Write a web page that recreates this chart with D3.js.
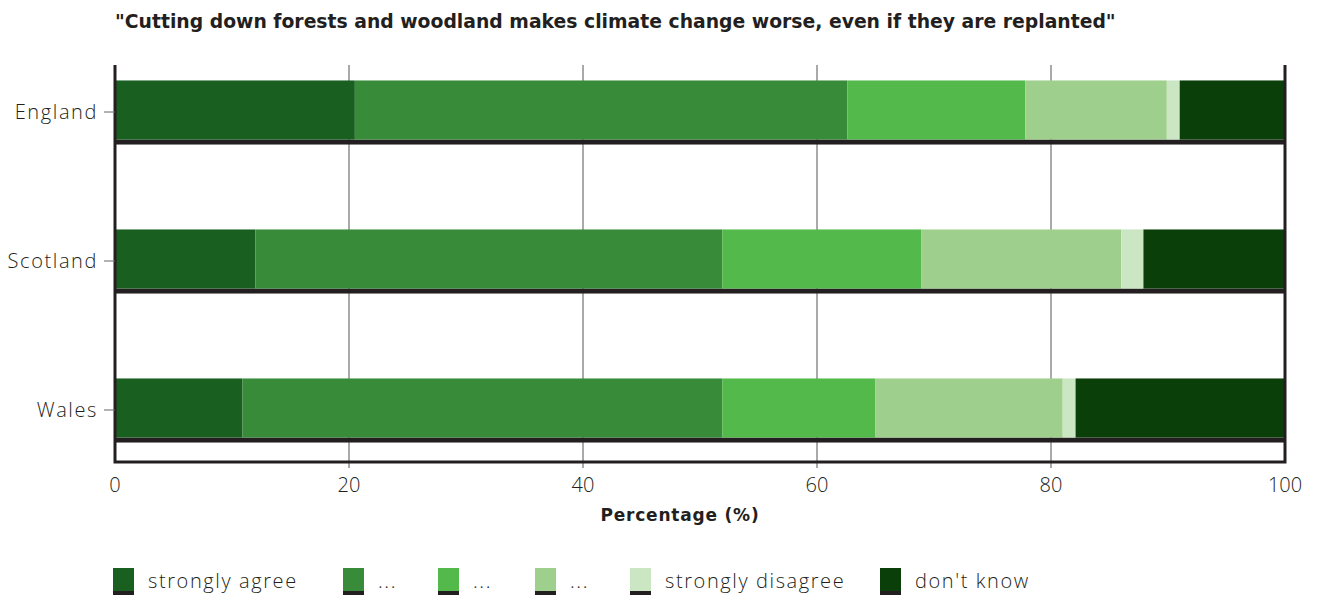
<!DOCTYPE html>
<html><head><meta charset="utf-8">
<script src="https://cdn.jsdelivr.net/npm/d3@7/dist/d3.min.js"></script>
<style>body{margin:0;background:#fff}</style>
</head><body>
<svg id="c" width="1318" height="595"></svg>
<script>
const categories = ["England", "Scotland", "Wales"];
const seriesNames = ["strongly agree", "...", "... ", "...  ", "strongly disagree", "don't know"];
const legendLabels = ["strongly agree", "...", "...", "...", "strongly disagree", "don't know"];
const stronglyAgree = [20.5, 12.0, 10.9];
const agree = [42.1, 39.9, 41.0];
const neutral = [15.2, 17.0, 13.1];
const disagree = [12.1, 17.1, 16.0];
const stronglyDisagree = [1.1, 1.9, 1.1];
const dontKnow = [9.0, 12.1, 17.9];
const xTicks = [0, 20, 40, 60, 80, 100];
const colors = ["#185f20", "#378b39", "#53b94b", "#9ecf8c", "#cae6c3", "#0b3f09"];

(function () {
const series = [stronglyAgree, agree, neutral, disagree, stronglyDisagree, dontKnow];
const rows = categories.map((c, i) => {
  const o = {cat: c};
  seriesNames.forEach((s, j) => o[s] = series[j][i]);
  return o;
});
const stack = d3.stack().keys(seriesNames)(rows);

const svg = d3.select("#c");
const x = d3.scaleLinear().domain([0, 100]).range([115, 1285]);
const y = d3.scaleBand().domain(categories).range([38, 485]).paddingInner(0.57).paddingOuter(0.285);
const plotTop = 65, plotBottom = 462;
const dark = "#231f20";
const font = "'Open Sans', sans-serif";

svg.append("text").attr("x", 115).attr("y", 28).attr("font-family", "'DejaVu Sans', sans-serif")
  .attr("font-weight", "bold").attr("font-size", 18.8).attr("fill", "#231f20")
  .text('"Cutting down forests and woodland makes climate change worse, even if they are replanted"');

// grid
svg.append("g").selectAll("line").data(xTicks.slice(1, -1)).join("line")
  .attr("x1", d => x(d)).attr("x2", d => x(d)).attr("y1", plotTop).attr("y2", plotBottom + 6)
  .attr("stroke", "#555").attr("stroke-width", 1);

// bars
const bw = y.bandwidth();
const stripe = 5;
svg.append("g").selectAll("rect").data(categories).join("rect")
  .attr("x", x(0)).attr("width", x(100) - x(0))
  .attr("y", d => y(d) + bw - stripe).attr("height", stripe).attr("fill", dark);
stack.forEach((layer, j) => {
  svg.append("g").selectAll("rect").data(layer).join("rect")
    .attr("x", d => x(d[0])).attr("width", d => x(d[1]) - x(d[0]))
    .attr("y", d => y(d.data.cat)).attr("height", bw - stripe)
    .attr("fill", colors[j]);
});

// frame
svg.append("path").attr("d", `M${x(0)},${plotTop}V${plotBottom}H${x(100)}V${plotTop}`)
  .attr("fill", "none").attr("stroke", dark).attr("stroke-width", 3);

// y axis
const yAxis = svg.append("g");
categories.forEach(c => {
  const cy = y(c) + (bw - stripe) / 2 + 2;
  yAxis.append("line").attr("x1", x(0) - 11).attr("x2", x(0)).attr("y1", cy).attr("y2", cy)
    .attr("stroke", "#666");
  yAxis.append("text").attr("x", 98).attr("y", cy).attr("dy", "0.35em").attr("text-anchor", "end")
    .attr("font-family", font).attr("font-weight", 300).attr("font-size", 20).attr("letter-spacing", 1.6)
    .attr("fill", "#231f20").text(c);
});

// x tick labels
svg.append("g").selectAll("text").data(xTicks).join("text")
  .attr("x", d => x(d)).attr("y", 492).attr("text-anchor", "middle")
  .attr("font-family", font).attr("font-weight", 300).attr("font-size", 20).attr("fill", "#231f20")
  .text(d => d);
svg.append("text").attr("x", 680).attr("y", 521).attr("text-anchor", "middle")
  .attr("font-family", "'DejaVu Sans', sans-serif").attr("font-weight", "bold").attr("font-size", 17)
  .attr("letter-spacing", 0.8).attr("fill", "#231f20").text("Percentage (%)");

// legend
const legX = [113, 343, 438, 535, 630, 880];
const lg = svg.append("g");
legendLabels.forEach((l, j) => {
  lg.append("rect").attr("x", legX[j]).attr("y", 591).attr("width", 21).attr("height", 6).attr("fill", dark);
  lg.append("rect").attr("x", legX[j]).attr("y", 568).attr("width", 21).attr("height", 23).attr("fill", colors[j]);
  lg.append("text").attr("x", legX[j] + 35).attr("y", 588)
    .attr("font-family", font).attr("font-weight", 300).attr("font-size", 20).attr("letter-spacing", 1.6)
    .attr("fill", "#231f20").text(l);
});
})();
</script>
</body></html>
